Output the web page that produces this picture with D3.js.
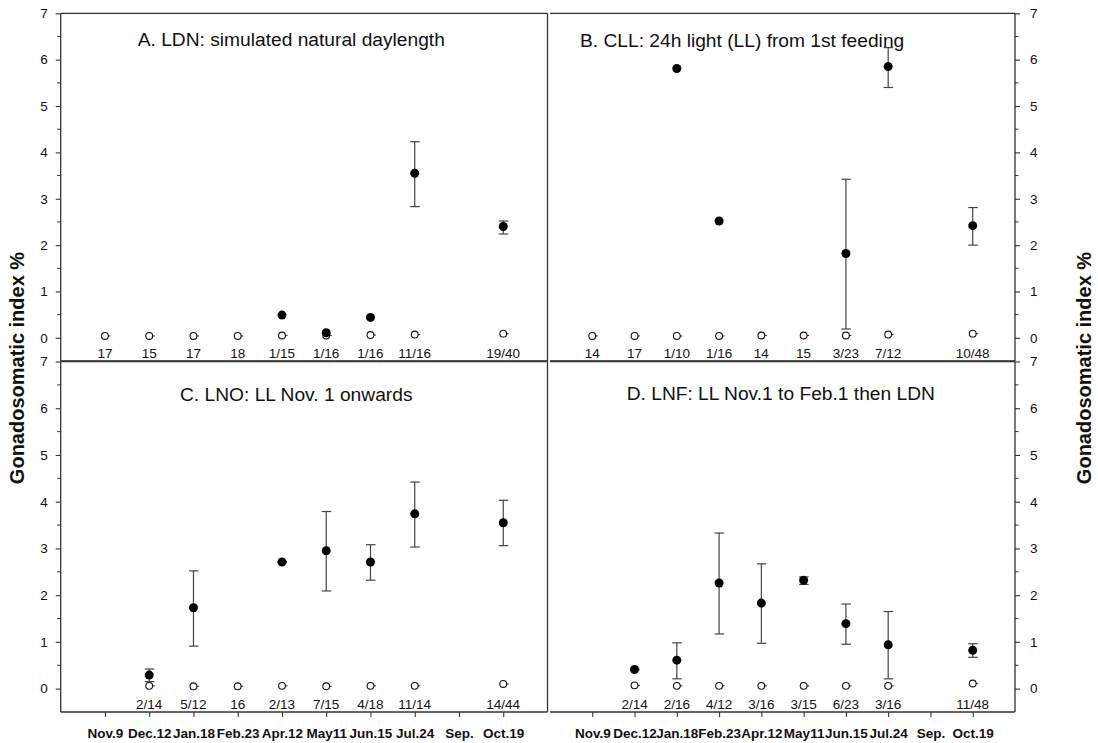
<!DOCTYPE html>
<html>
<head>
<meta charset="utf-8">
<script src="https://cdn.jsdelivr.net/npm/d3@7"></script>
<style>
  html, body { margin: 0; padding: 0; background: #fff; }
  svg { display: block; font-family: "Liberation Sans", Arial, Helvetica, sans-serif; }
</style>
</head>
<body>
<svg id="chart" width="1098" height="743"></svg>
<script>
// Sampling dates (x axis categories)
const dates = ["Nov.9", "Dec.12", "Jan.18", "Feb.23", "Apr.12", "May11", "Jun.15", "Jul.24", "Sep.", "Oct.19"];
const yTicks = [0, 1, 2, 3, 4, 5, 6, 7];

// A. LDN
const titleA = "A. LDN: simulated natural daylength";
const immIdxA = [0, 1, 2, 3, 4, 5, 6, 7, 9];
const immGsiA = [0.04, 0.04, 0.04, 0.04, 0.05, 0.05, 0.06, 0.07, 0.09];
const countsA = ["17", "15", "17", "18", "1/15", "1/16", "1/16", "11/16", "19/40"];
const matIdxA = [4, 5, 6, 7, 9];
const matGsiA = [0.49, 0.11, 0.44, 3.55, 2.40];
const matHiA = [null, null, null, 4.23, 2.52];
const matLoA = [null, null, null, 2.83, 2.24];

// B. CLL
const titleB = "B. CLL: 24h light (LL) from 1st feeding";
const immIdxB = [0, 1, 2, 3, 4, 5, 6, 7, 9];
const immGsiB = [0.04, 0.04, 0.04, 0.04, 0.05, 0.05, 0.05, 0.07, 0.09];
const countsB = ["14", "17", "1/10", "1/16", "14", "15", "3/23", "7/12", "10/48"];
const matIdxB = [2, 3, 6, 7, 9];
const matGsiB = [5.81, 2.52, 1.82, 5.85, 2.42];
const matHiB = [null, null, 3.42, 6.26, 2.81];
const matLoB = [null, null, 0.19, 5.40, 2.00];

// C. LNO
const titleC = "C. LNO: LL Nov. 1 onwards";
const immIdxC = [1, 2, 3, 4, 5, 6, 7, 9];
const immGsiC = [0.06, 0.05, 0.05, 0.06, 0.05, 0.06, 0.06, 0.10];
const countsC = ["2/14", "5/12", "16", "2/13", "7/15", "4/18", "11/14", "14/44"];
const matIdxC = [1, 2, 4, 5, 6, 7, 9];
const matGsiC = [0.29, 1.73, 2.71, 2.95, 2.71, 3.74, 3.55];
const matHiC = [0.42, 2.52, 2.72, 3.79, 3.08, 4.42, 4.03];
const matLoC = [0.15, 0.91, 2.70, 2.09, 2.32, 3.03, 3.06];

// D. LNF
const titleD = "D. LNF: LL Nov.1 to Feb.1 then LDN";
const immIdxD = [1, 2, 3, 4, 5, 6, 7, 9];
const immGsiD = [0.07, 0.06, 0.06, 0.06, 0.06, 0.06, 0.06, 0.11];
const countsD = ["2/14", "2/16", "4/12", "3/16", "3/15", "6/23", "3/16", "11/48"];
const matIdxD = [1, 2, 3, 4, 5, 6, 7, 9];
const matGsiD = [0.41, 0.61, 2.26, 1.83, 2.32, 1.39, 0.94, 0.82];
const matHiD = [0.42, 0.98, 3.33, 2.67, 2.39, 1.81, 1.65, 0.96];
const matLoD = [0.40, 0.21, 1.17, 0.97, 2.23, 0.95, 0.21, 0.67];

const svg = d3.select("#chart");
const axisColor = "#333";
const errColor = "#444";

const panels = [
  { title: titleA, titleX: 137.7, titleY: 45.7, x0: 60.7, x1: 547.5, y0: 13.3, y1: 361, side: "left", xAxis: false,
    immIdx: immIdxA, imm: immGsiA, counts: countsA, matIdx: matIdxA, mat: matGsiA, hi: matHiA, lo: matLoA },
  { title: titleB, titleX: 580, titleY: 46.7, x0: 550, x1: 1015, y0: 13.3, y1: 361, side: "right", xAxis: false,
    immIdx: immIdxB, imm: immGsiB, counts: countsB, matIdx: matIdxB, mat: matGsiB, hi: matHiB, lo: matLoB },
  { title: titleC, titleX: 180, titleY: 400.7, x0: 60.7, x1: 547.5, y0: 361.5, y1: 712, side: "left", xAxis: true,
    immIdx: immIdxC, imm: immGsiC, counts: countsC, matIdx: matIdxC, mat: matGsiC, hi: matHiC, lo: matLoC },
  { title: titleD, titleX: 626.7, titleY: 400, x0: 550, x1: 1015, y0: 361.5, y1: 712, side: "right", xAxis: true,
    immIdx: immIdxD, imm: immGsiD, counts: countsD, matIdx: matIdxD, mat: matGsiD, hi: matHiD, lo: matLoD }
];

panels.forEach(p => {
  const x = d3.scaleLinear().domain([-1, 10]).range([p.x0, p.x1]);
  const y = d3.scaleLinear().domain([-0.5, 7]).range([p.y1, p.y0]);
  const g = svg.append("g");

  // frame: top and bottom edges, plus the outer vertical edge
  const frame = g.append("g").attr("stroke", axisColor).attr("stroke-width", 1.3).attr("fill", "none");
  frame.append("line").attr("x1", p.x0).attr("x2", p.x1).attr("y1", p.y0).attr("y2", p.y0);
  frame.append("line").attr("x1", p.x0).attr("x2", p.x1).attr("y1", p.y1).attr("y2", p.y1);
  if (p.side === "left") {
    frame.append("line").attr("x1", p.x1).attr("x2", p.x1).attr("y1", p.y0).attr("y2", p.y1);
  }

  // y axis with minor half-unit ticks
  const axisX = p.side === "left" ? p.x0 : p.x1;
  const yAxis = (p.side === "left" ? d3.axisLeft(y) : d3.axisRight(y))
    .tickValues(yTicks).tickFormat(d3.format("d")).tickSize(5)
    .tickPadding(p.side === "left" ? 8 : 10);
  const ya = g.append("g").attr("transform", `translate(${axisX},0)`).call(yAxis);
  ya.select(".domain").attr("stroke", axisColor).attr("stroke-width", 1.3)
    .attr("d", `M0,${p.y0}V${p.y1}`);
  ya.selectAll(".tick line").attr("stroke", axisColor).attr("stroke-width", 1.1);
  ya.selectAll(".tick text").attr("font-size", 13.5).attr("fill", "#111")
    .attr("font-family", "Liberation Sans, Arial, sans-serif");
  const minor = d3.range(0.5, 7, 1);
  ya.selectAll(".minor").data(minor).join("line").attr("class", "minor")
    .attr("x1", 0).attr("x2", p.side === "left" ? -3.5 : 3.5)
    .attr("y1", d => y(d)).attr("y2", d => y(d))
    .attr("stroke", axisColor).attr("stroke-width", 1);

  // x axis only on bottom row
  if (p.xAxis) {
    const xAxis = d3.axisBottom(x).tickValues(d3.range(dates.length))
      .tickFormat(i => dates[i]).tickSize(5).tickPadding(11);
    const xa = g.append("g").attr("transform", `translate(0,${p.y1})`).call(xAxis);
    xa.select(".domain").remove();
    xa.selectAll(".tick line").attr("stroke", axisColor).attr("stroke-width", 1.1);
    xa.selectAll(".tick text").attr("font-size", 13.5).attr("font-weight", "bold").attr("fill", "#111")
      .attr("font-family", "Liberation Sans, Arial, sans-serif");
  }

  // panel title
  g.append("text").attr("x", p.titleX).attr("y", p.titleY)
    .attr("font-size", 19.2).attr("fill", "#111").text(p.title);

  // mature fish: mean with error bars
  const mat = p.matIdx.map((i, k) => ({ i, v: p.mat[k], hi: p.hi[k], lo: p.lo[k] }));
  const bars = mat.filter(d => d.hi !== null);
  const eb = g.append("g").attr("stroke", errColor).attr("stroke-width", 1.2);
  eb.selectAll(".v").data(bars).join("line")
    .attr("x1", d => x(d.i)).attr("x2", d => x(d.i))
    .attr("y1", d => y(d.hi)).attr("y2", d => y(d.lo));
  eb.selectAll(".ct").data(bars).join("line")
    .attr("x1", d => x(d.i) - 4.5).attr("x2", d => x(d.i) + 5)
    .attr("y1", d => y(d.hi)).attr("y2", d => y(d.hi));
  eb.selectAll(".cb").data(bars).join("line")
    .attr("x1", d => x(d.i) - 4.5).attr("x2", d => x(d.i) + 5)
    .attr("y1", d => y(d.lo)).attr("y2", d => y(d.lo));

  // immature fish: open circles with count labels
  const imm = p.immIdx.map((i, k) => ({ i, v: p.imm[k], label: p.counts[k] }));
  g.selectAll(".immdash").data(imm).join("line")
    .attr("x1", d => x(d.i) + 3).attr("x2", d => x(d.i) + 5.5)
    .attr("y1", d => y(d.v)).attr("y2", d => y(d.v))
    .attr("stroke", "#333").attr("stroke-width", 1.1);
  g.selectAll(".imm").data(imm).join("circle")
    .attr("cx", d => x(d.i)).attr("cy", d => y(d.v)).attr("r", 3.4)
    .attr("fill", "#fff").attr("stroke", "#111").attr("stroke-width", 1.1);
  g.selectAll(".cnt").data(imm).join("text")
    .attr("x", d => x(d.i)).attr("y", y(0) + 20.5)
    .attr("text-anchor", "middle").attr("font-size", 13.5).attr("fill", "#111")
    .text(d => d.label);

  g.selectAll(".mat").data(mat).join("circle")
    .attr("cx", d => x(d.i)).attr("cy", d => y(d.v)).attr("r", 4.5)
    .attr("fill", "#000");
});

// shared axis titles on both sides
[24, 1091].forEach(bx => {
  svg.append("text")
    .attr("transform", `translate(${bx},368) rotate(-90)`)
    .attr("text-anchor", "middle").attr("font-size", 20).attr("font-weight", "bold")
    .attr("fill", "#111").text("Gonadosomatic index %");
});
</script>
</body>
</html>
